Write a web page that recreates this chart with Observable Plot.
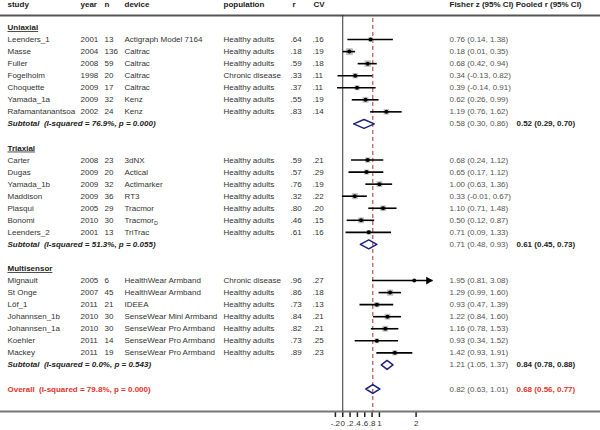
<!DOCTYPE html>
<html><head><meta charset="utf-8">
<script src="https://cdn.jsdelivr.net/npm/d3@7"></script>
<script src="https://cdn.jsdelivr.net/npm/@observablehq/plot@0.6"></script>
<style>html,body{margin:0;padding:0;background:#fff}
g[aria-label="x-axis tick"] path{stroke-width:1.5px;stroke:#222}
g[aria-label="x-axis tick label"] text{fill:#333}</style>
</head><body><div id="chart"></div>
<script>
// ---- data ----
const groupNames = ["Uniaxial", "Triaxial", "Multisensor"];
const study = ["Leenders_1","Masse","Fuller","Fogelholm","Choquette","Yamada_1a","Rafamantanantsoa",
  "Carter","Dugas","Yamada_1b","Maddison","Plasqui","Bonomi","Leenders_2",
  "Mignault","St Onge","Löf_1","Johannsen_1b","Johannsen_1a","Koehler","Mackey"];
const group = [0,0,0,0,0,0,0, 1,1,1,1,1,1,1, 2,2,2,2,2,2,2];
const year = [2001,2004,2008,1998,2009,2009,2002, 2008,2009,2009,2009,2005,2010,2001, 2005,2007,2011,2010,2010,2011,2011];
const n = [13,136,59,20,17,32,24, 23,20,32,36,29,30,13, 6,45,21,30,30,14,19];
const device = ["Actigraph Model 7164","Caltrac","Caltrac","Caltrac","Caltrac","Kenz","Kenz",
  "3dNX","Actical","Actimarker","RT3","Tracmor","Tracmor_D","TriTrac",
  "HealthWear Armband","HealthWear Armband","IDEEA","SenseWear Mini Armband","SenseWear Pro Armband","SenseWear Pro Armband","SenseWear Pro Armband"];
const population = ["Healthy adults","Healthy adults","Healthy adults","Chronic disease","Healthy adults","Healthy adults","Healthy adults",
  "Healthy adults","Healthy adults","Healthy adults","Healthy adults","Healthy adults","Healthy adults","Healthy adults",
  "Chronic disease","Healthy adults","Healthy adults","Healthy adults","Healthy adults","Healthy adults","Healthy adults"];
const rVal = [.64,.18,.59,.33,.37,.55,.83, .59,.57,.76,.32,.80,.46,.61, .96,.86,.73,.84,.82,.73,.89];
const cvVal = [.16,.19,.18,.11,.11,.19,.14, .21,.29,.19,.22,.20,.15,.16, .27,.18,.13,.21,.21,.25,.23];
const fz = [0.76,0.18,0.68,0.34,0.39,0.62,1.19, 0.68,0.65,1.00,0.33,1.10,0.50,0.71, 1.95,1.29,0.93,1.22,1.16,0.93,1.42];
const fzLo = [0.14,0.01,0.42,-0.13,-0.14,0.26,0.76, 0.24,0.17,0.63,-0.01,0.71,0.12,0.09, 0.81,0.99,0.47,0.84,0.78,0.34,0.93];
const fzHi = [1.38,0.35,0.94,0.82,0.91,0.99,1.62, 1.12,1.12,1.36,0.67,1.48,0.87,1.33, 3.08,1.60,1.39,1.60,1.53,1.52,1.91];

const subI2 = [76.9, 51.3, 0.0];
const subP = [0.000, 0.055, 0.543];
const subFz = [0.58, 0.71, 1.21];
const subFzLo = [0.30, 0.48, 1.05];
const subFzHi = [0.86, 0.93, 1.37];
const subR = [0.52, 0.61, 0.84];
const subRLo = [0.29, 0.45, 0.78];
const subRHi = [0.70, 0.73, 0.88];

const overallI2 = 79.8, overallP = 0.000;
const overallFz = 0.82, overallFzLo = 0.63, overallFzHi = 1.01;
const overallR = 0.68, overallRLo = 0.56, overallRHi = 0.77;

const xTicks = [-0.2, 0, 0.2, 0.4, 0.6, 0.8, 1, 2];
const xMaxShown = 2.46;

// ---- build rows ----
const f2 = v => v.toFixed(2);
const ci = (e, l, u) => `${f2(e)} (${f2(l)}, ${f2(u)})`;
const dotless = v => v.toFixed(2).replace(/^0\./, ".").replace(/^-0\./, "-.");
const tickFmt = v => v === 0 ? "0" : String(v).replace(/^0\./, ".").replace(/^-0\./, "-.");

const headRows = [], studyRows = [], subRows = [];
let row = 0;
groupNames.forEach((g, gi) => {
  headRows.push({label: g, row: row++});
  study.forEach((s, i) => {
    if (group[i] !== gi) return;
    const se = (fzHi[i] - fzLo[i]) / 3.92;
    const w = 1 / (se * se + 0.06);
    studyRows.push({
      row: row++, study: s, year: String(year[i]), n: String(n[i]), device: device[i],
      population: population[i], r: dotless(rVal[i]), cv: dotless(cvVal[i]),
      est: fz[i], lo: fzLo[i], hi: Math.min(fzHi[i], xMaxShown), clipped: fzHi[i] > xMaxShown,
      ci: ci(fz[i], fzLo[i], fzHi[i]), box: 1.82 * Math.sqrt(w) / 1.772
    });
  });
  subRows.push({
    row: row++, label: `Subtotal  (I-squared = ${subI2[gi].toFixed(1)}%, p = ${subP[gi].toFixed(3)})`,
    est: subFz[gi], lo: subFzLo[gi], hi: subFzHi[gi],
    ci: ci(subFz[gi], subFzLo[gi], subFzHi[gi]), pooled: ci(subR[gi], subRLo[gi], subRHi[gi])
  });
  row++;
});
const overallRow = {
  row: row, label: `Overall  (I-squared = ${overallI2.toFixed(1)}%, p = ${overallP.toFixed(3)})`,
  est: overallFz, lo: overallFzLo, hi: overallFzHi,
  ci: ci(overallFz, overallFzLo, overallFzHi), pooled: ci(overallR, overallRLo, overallRHi)
};
const diamonds = [];
[...subRows, overallRow].forEach((d, k) => {
  const h = 0.37;
  [[d.lo, d.row], [d.est, d.row - h], [d.hi, d.row], [d.est, d.row + h], [d.lo, d.row]]
    .forEach(([x, y]) => diamonds.push({id: k, x, y}));
});

const headerY = -1.9, headerLineY = -1, axisY = 31.87;
const txtColor = "#333";

const col = (data, text, px, opts = {}) => Plot.text(data, {
  y: "row", text, frameAnchor: "left", dx: px, textAnchor: "start", fill: txtColor, ...opts
});

const headers = [["study", 7], ["year", 80], ["n", 104], ["device", 124], ["population", 223],
  ["r", 292], ["CV", 313], ["Fisher z (95% CI) Pooled r (95% CI)", 449]];

const chart = Plot.plot({
  width: 600, height: 430,
  marginLeft: 0, marginRight: 0, marginTop: 0, marginBottom: 19,
  x: {domain: [-0.2, 2], range: [334.9, 415.6], ticks: xTicks, tickFormat: tickFmt, tickSize: 6, label: null},
  y: {domain: [0, 30], range: [27, 388.5], axis: null},
  r: {type: "identity"},
  style: {fontFamily: "'Liberation Sans', Arial, sans-serif", fontSize: "8px", background: "#fff", color: "#333"},
  marks: [
    Plot.ruleY([headerLineY], {stroke: "#555", strokeWidth: 2}),
    Plot.ruleY([axisY], {stroke: "#777", strokeWidth: 2}),
    Plot.ruleX([0], {y1: headerLineY, y2: axisY, stroke: "#333", strokeWidth: 1}),
    Plot.ruleX([overallFz], {y1: -0.75, y2: axisY, stroke: "#a8322d", strokeWidth: 1, strokeDasharray: "4,3"}),
    ...headers.map(([t, px]) => Plot.text([{row: headerY}], {y: "row", text: () => t, frameAnchor: "left", dx: px, textAnchor: "start", fontWeight: "bold", fill: "#222"})),
    col(headRows, "label", 7, {fontWeight: "bold", fill: "#222"}),
    col(studyRows, "study", 7),
    col(studyRows, "year", 80),
    col(studyRows, "n", 104),
    col(studyRows, "device", 124),
    col(studyRows, "population", 223),
    col(studyRows, "r", 290),
    col(studyRows, "cv", 312),
    col(studyRows, "ci", 449, {fill: "#555"}),
    col(subRows, "label", 7, {fontWeight: "bold", fontStyle: "italic", fill: "#222"}),
    col(subRows, "ci", 449, {fill: "#555"}),
    col(subRows, "pooled", 516, {fontWeight: "bold", fill: "#222"}),
    col([overallRow], "label", 7, {fontWeight: "bold", fill: "#e0332a"}),
    col([overallRow], "ci", 449, {fill: "#555"}),
    col([overallRow], "pooled", 516, {fontWeight: "bold", fill: "#e0332a"}),
    Plot.dot(studyRows, {x: "est", y: "row", r: "box", symbol: "square", fill: "#c2c2c2"}),
    Plot.ruleY(studyRows, {y: "row", x1: "lo", x2: "hi", stroke: "#000", strokeWidth: 1.6}),
    Plot.dot(studyRows.filter(d => d.clipped), {x: "hi", y: "row", symbol: "triangle", r: 2.9, rotate: 90, fill: "#000", dx: -4.5}),
    Plot.dot(studyRows, {x: "est", y: "row", r: 2, fill: "#000"}),
    Plot.line(diamonds, {x: "x", y: "y", z: "id", stroke: "#1f237a", strokeWidth: 1.5})
  ]
});

const svg = d3.select(chart);
svg.selectAll("text").filter(function () { return groupNames.includes(this.textContent); })
  .attr("text-decoration", "underline");
svg.selectAll("text").filter(function () { return this.textContent === "Tracmor_D"; })
  .each(function () {
    const t = d3.select(this);
    t.text("Tracmor");
    t.append("tspan").attr("font-size", "5.5px").attr("dy", "2").text("D");
  });
svg.selectAll("text").attr("xml:space", "preserve").style("white-space", "pre");
document.getElementById("chart").appendChild(chart);
</script></body></html>
